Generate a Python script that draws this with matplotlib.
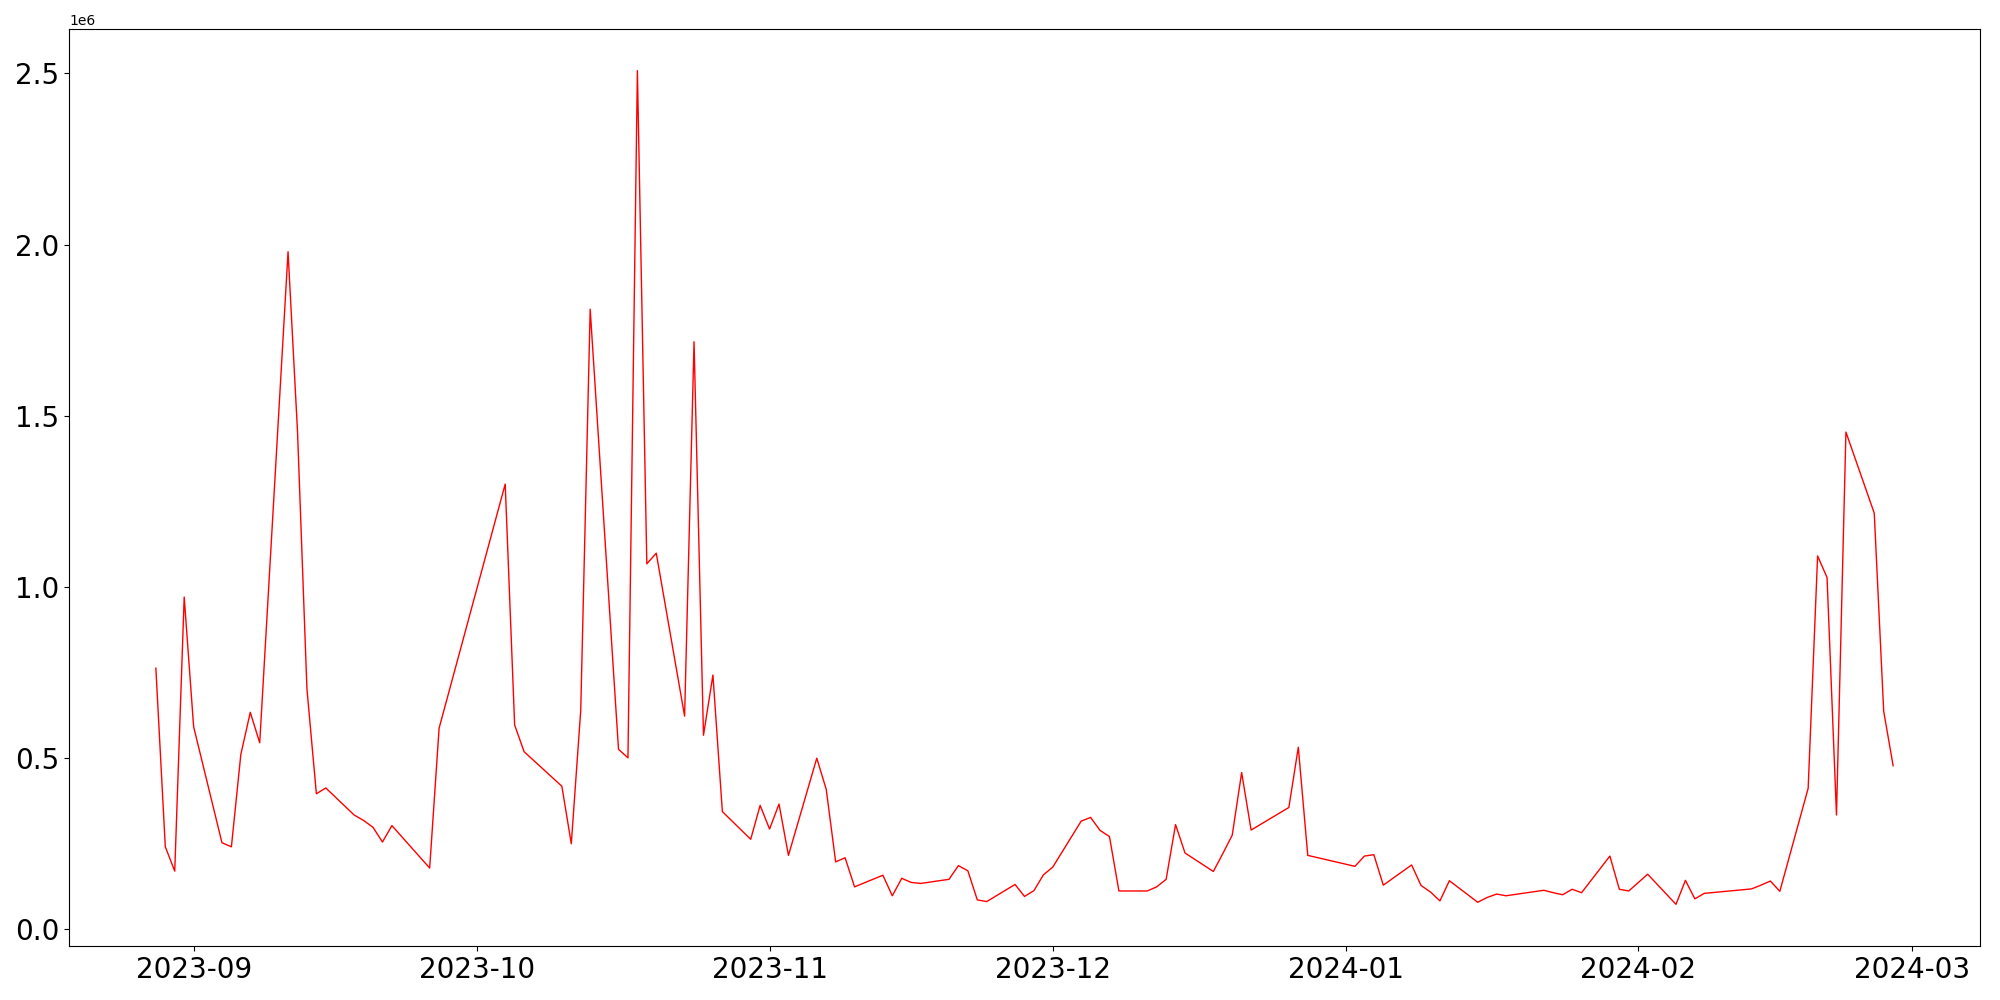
import matplotlib
matplotlib.use("Agg")
import matplotlib.pyplot as plt
import pandas as pd

dates = [
    "2023-08-28", "2023-08-29", "2023-08-30", "2023-08-31", "2023-09-01",
    "2023-09-04", "2023-09-05", "2023-09-06", "2023-09-07", "2023-09-08",
    "2023-09-11", "2023-09-12", "2023-09-13", "2023-09-14", "2023-09-15",
    "2023-09-18", "2023-09-19", "2023-09-20", "2023-09-21", "2023-09-22",
    "2023-09-26", "2023-09-27",
    "2023-10-04", "2023-10-05", "2023-10-06",
    "2023-10-10", "2023-10-11", "2023-10-12", "2023-10-13",
    "2023-10-16", "2023-10-17", "2023-10-18", "2023-10-19", "2023-10-20",
    "2023-10-23", "2023-10-24", "2023-10-25", "2023-10-26", "2023-10-27",
    "2023-10-30", "2023-10-31", "2023-11-01", "2023-11-02", "2023-11-03",
    "2023-11-06", "2023-11-07", "2023-11-08", "2023-11-09", "2023-11-10",
    "2023-11-13", "2023-11-14", "2023-11-15", "2023-11-16", "2023-11-17",
    "2023-11-20", "2023-11-21", "2023-11-22", "2023-11-23", "2023-11-24",
    "2023-11-27", "2023-11-28", "2023-11-29", "2023-11-30", "2023-12-01",
    "2023-12-04", "2023-12-05", "2023-12-06", "2023-12-07", "2023-12-08",
    "2023-12-11", "2023-12-12", "2023-12-13", "2023-12-14", "2023-12-15",
    "2023-12-18", "2023-12-19", "2023-12-20", "2023-12-21", "2023-12-22",
    "2023-12-26", "2023-12-27", "2023-12-28",
    "2024-01-02", "2024-01-03", "2024-01-04", "2024-01-05",
    "2024-01-08", "2024-01-09", "2024-01-10", "2024-01-11", "2024-01-12",
    "2024-01-15", "2024-01-16", "2024-01-17", "2024-01-18",
    "2024-01-22", "2024-01-23", "2024-01-24", "2024-01-25", "2024-01-26",
    "2024-01-29", "2024-01-30", "2024-01-31", "2024-02-02",
    "2024-02-05", "2024-02-06", "2024-02-07", "2024-02-08",
    "2024-02-13", "2024-02-14", "2024-02-15", "2024-02-16",
    "2024-02-19", "2024-02-20", "2024-02-21", "2024-02-22", "2024-02-23",
    "2024-02-26", "2024-02-27", "2024-02-28",
]

values = [
    762000, 240000, 169000, 970000, 591000,
    252000, 240000, 510000, 633000, 544000,
    1979000, 1455000, 702000, 395000, 412000,
    333000, 317000, 297000, 254000, 302000,
    178000, 587000,
    1300000, 596000, 518000,
    417000, 249000, 639000, 1811000,
    525000, 500000, 2508000, 1067000, 1098000,
    622000, 1716000, 566000, 742000, 343000,
    262000, 361000, 292000, 365000, 215000,
    499000, 408000, 196000, 208000, 123000,
    157000, 97000, 148000, 136000, 133000,
    145000, 185000, 170000, 85000, 80000,
    130000, 95000, 112000, 158000, 181000,
    315000, 326000, 288000, 270000, 111000,
    111000, 123000, 145000, 305000, 222000,
    168000, 220000, 274000, 457000, 289000,
    355000, 531000, 215000,
    183000, 213000, 217000, 128000,
    187000, 127000, 108000, 82000, 141000,
    78000, 92000, 102000, 97000,
    113000, 106000, 100000, 116000, 106000,
    213000, 116000, 111000, 160000,
    72000, 142000, 88000, 104000,
    117000, 128000, 140000, 110000,
    411000, 1090000, 1027000, 333000, 1452000,
    1215000, 636000, 477000,
]

x = pd.to_datetime(dates)

fig = plt.figure(figsize=(20, 10), dpi=100)
ax = fig.add_axes([0.0345, 0.054, 0.9555, 0.917])
ax.plot(x, values, color="red", linewidth=1.0)
ax.tick_params(axis="both", labelsize=20)
fig.savefig("out.png", dpi=100)
